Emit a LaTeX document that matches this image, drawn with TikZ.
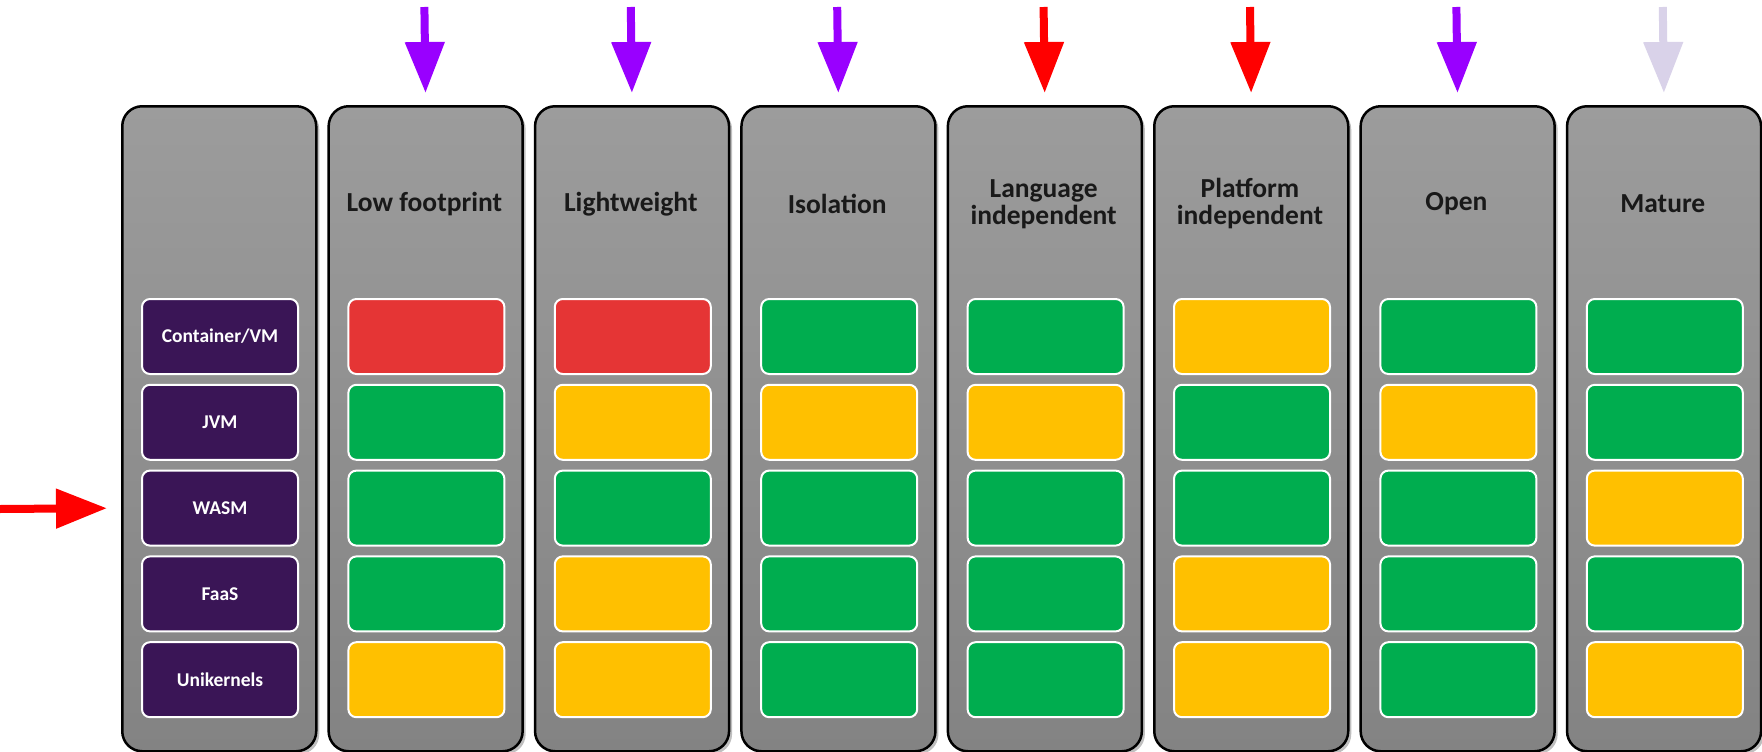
\documentclass[tikz,border=0pt]{standalone}
\usepackage{fontspec}
\setmainfont{Carlito}
\usetikzlibrary{arrows.meta,shadows}
\definecolor{colgrayT}{HTML}{9C9C9C}
\definecolor{colgrayB}{HTML}{838383}
\definecolor{cellred}{HTML}{E53535}
\definecolor{cellgreen}{HTML}{00AD4F}
\definecolor{cellyellow}{HTML}{FFC000}
\definecolor{cellpurple}{HTML}{3A1556}
\definecolor{arrpurple}{HTML}{9900FF}
\definecolor{arrred}{HTML}{FF0000}
\definecolor{arrlav}{HTML}{D9D2E9}
\begin{document}
\begin{tikzpicture}[x=1pt,y=-1pt,
  colbox/.style={draw=black, line width=2.5pt, rounded corners=20pt,
    minimum width=194pt, minimum height=645pt, anchor=north west,
    top color=colgrayT, bottom color=colgrayB, inner sep=0pt,
    drop shadow={shadow xshift=3pt, shadow yshift=-3pt, opacity=0.25, fill=black}},
  head/.style={font=\bfseries\fontsize{27.5}{27}\selectfont, align=center, text=black!90, inner sep=0pt},
  cellbox/.style={draw=white, line width=2pt, rounded corners=8pt,
    minimum width=156pt, minimum height=75pt, anchor=north west, inner sep=0pt},
  lbl/.style={font=\bfseries\fontsize{19.5}{20}\selectfont, text=white},
  bigarrow/.style={line width=8pt, -{Triangle[width=38pt,length=51pt]}}
]
\useasboundingbox (0,0) rectangle (1762,752);
% first column with row labels
\node[colbox] (col0) at (121,105) {};
\foreach \t [count=\j] in {Container/VM,JVM,WASM,FaaS,Unikernels}
  \node[cellbox, fill=cellpurple, lbl] (lab\j) at ({141}, {298+85.8*(\j-1)}) {\t};
% left arrow
\coordinate (lefttail) at (0,509);
\draw[bigarrow, arrred, shorten >=14pt] (lefttail) -- (col0.west |- lab3.center);
% criteria columns
\foreach \i/\title/\acol/\ca/\cb/\cc/\cd/\ce in {
 1/{Low footprint}/arrpurple/cellred/cellgreen/cellgreen/cellgreen/cellyellow,
 2/Lightweight/arrpurple/cellred/cellyellow/cellgreen/cellyellow/cellyellow,
 3/Isolation/arrpurple/cellgreen/cellyellow/cellgreen/cellgreen/cellgreen,
 4/{Language\\independent}/arrred/cellgreen/cellyellow/cellgreen/cellgreen/cellgreen,
 5/{Platform\\independent}/arrred/cellyellow/cellgreen/cellgreen/cellyellow/cellyellow,
 6/Open/arrpurple/cellgreen/cellyellow/cellgreen/cellgreen/cellgreen,
 7/Mature/arrlav/cellgreen/cellgreen/cellyellow/cellgreen/cellyellow}
{
 \pgfmathsetmacro\L{121+206.4*\i}
 \node[colbox] (col\i) at (\L,105) {};
 \node[head] (h\i) at ({\L+97},204) {\title};
 \foreach \c [count=\j] in {\ca,\cb,\cc,\cd,\ce}
   \node[cellbox, fill=\c] (cell\i-\j) at ({\L+20}, {298+85.8*(\j-1)}) {};
 \coordinate (top\i) at ({\L+97},7);
 \draw[bigarrow, color=\acol, shorten >=12pt] (top\i) -- (col\i.north);
}
\end{tikzpicture}
\end{document}
